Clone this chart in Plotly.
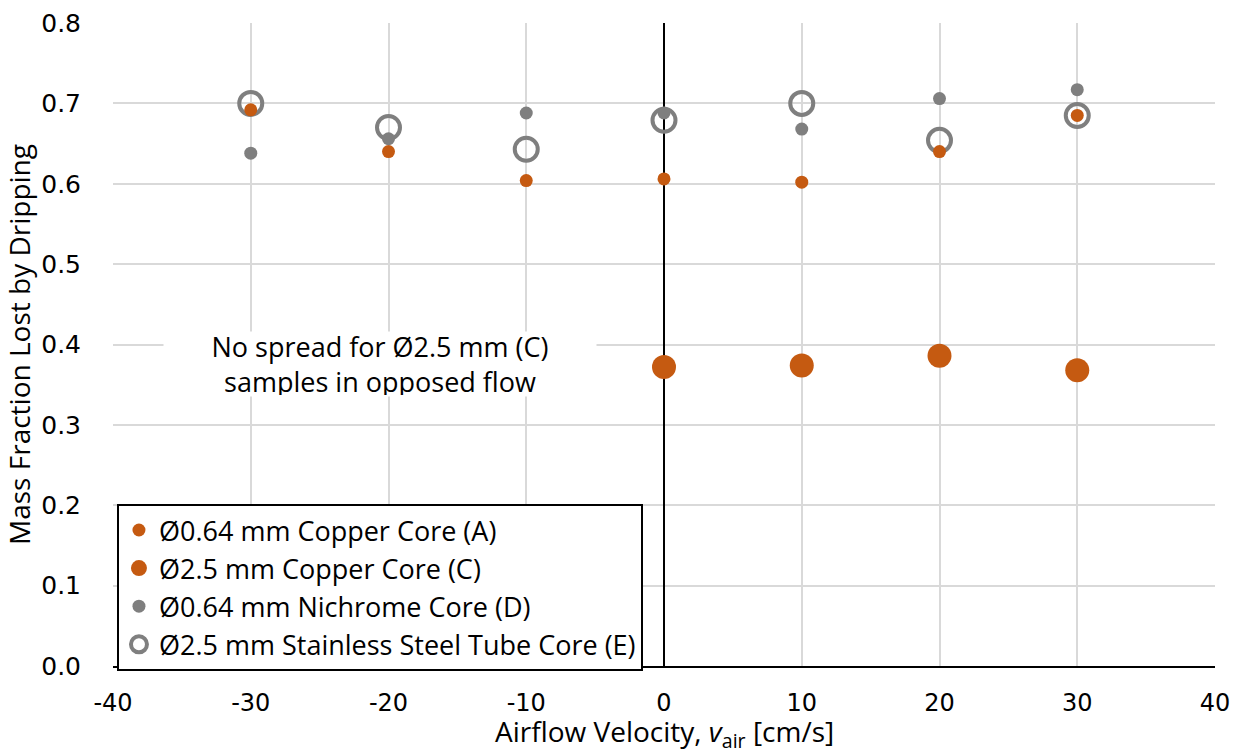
import plotly.graph_objects as go

velocity = [-30, -20, -10, 0, 10, 20, 30]
copper_064 = [0.692, 0.640, 0.604, 0.606, 0.602, 0.640, 0.685]
velocity_c = [0, 10, 20, 30]
copper_25 = [0.372, 0.374, 0.386, 0.368]
nichrome_064 = [0.638, 0.656, 0.688, 0.688, 0.668, 0.706, 0.717]
steel_tube_25 = [0.700, 0.670, 0.643, 0.679, 0.700, 0.654, 0.685]

x_ticks = [-40, -30, -20, -10, 0, 10, 20, 30, 40]
y_ticks = [0.0, 0.1, 0.2, 0.3, 0.4, 0.5, 0.6, 0.7, 0.8]

ORANGE = "#C55A11"
GRAY = "#7F7F7F"
FONT = "Open Sans"
TICKFONT = "DejaVu Sans"

fig = go.Figure()
fig.add_trace(go.Scatter(
    x=velocity, y=steel_tube_25, mode="markers", name="Ø2.5 mm Stainless Steel Tube Core (E)",
    marker=dict(size=23, color="rgba(0,0,0,0)", line=dict(color=GRAY, width=4)),
    legendrank=4, legendgroup="e"))
fig.add_trace(go.Scatter(
    x=velocity, y=copper_064, mode="markers", name="Ø0.64 mm Copper Core (A)",
    marker=dict(size=13, color=ORANGE), legendrank=1, legendgroup="a"))
fig.add_trace(go.Scatter(
    x=velocity_c, y=copper_25, mode="markers", name="Ø2.5 mm Copper Core (C)",
    marker=dict(size=24, color=ORANGE), legendrank=2, legendgroup="c"))
fig.add_trace(go.Scatter(
    x=velocity, y=nichrome_064, mode="markers", name="Ø0.64 mm Nichrome Core (D)",
    marker=dict(size=13, color=GRAY), legendrank=3, legendgroup="d"))

fig.add_annotation(
    x=-20.6, y=0.376, xref="x", yref="y",
    text="No spread for Ø2.5 mm (C)<br>samples in opposed flow",
    showarrow=False, bgcolor="white", width=430, height=62,
    font=dict(family=FONT, size=27, color="black"), align="center")

fig.add_annotation(
    x=0.5, y=-0.104, xref="paper", yref="paper", xanchor="center", yanchor="middle",
    text="Airflow Velocity, <i>v</i><sub>air</sub> [cm/s]", showarrow=False,
    font=dict(family=FONT, size=28, color="black"))

fig.update_layout(
    width=1239, height=752,
    margin=dict(l=113, r=24, t=23, b=86),
    paper_bgcolor="white", plot_bgcolor="white",
    font=dict(family=FONT, size=27, color="black"),
    legend=dict(x=0.0036, y=0.252, xanchor="left", yanchor="top",
                bordercolor="black", borderwidth=2, bgcolor="white",
                font=dict(family=FONT, size=27, color="black"),
                tracegroupgap=0, itemsizing="trace"),
    xaxis=dict(range=[-40, 40], tickvals=x_ticks, ticktext=[str(v) for v in x_ticks],
               showgrid=True, gridcolor="#D9D9D9", gridwidth=1.5,
               zeroline=True, zerolinecolor="black", zerolinewidth=1.5,
               showline=True, linecolor="black", linewidth=1.5,
               ticks="outside", ticklen=14, tickcolor="white", automargin=False,
               tickfont=dict(family=TICKFONT, size=24)),
    yaxis=dict(range=[0, 0.8], tickvals=y_ticks, ticktext=[f"{v:.1f}" for v in y_ticks],
               showgrid=True, gridcolor="#D9D9D9", gridwidth=1.5,
               zeroline=False, showline=False, automargin=False,
               ticks="outside", ticklen=26, tickcolor="white",
               tickfont=dict(family=TICKFONT, size=25),
               title=dict(text="Mass Fraction Lost by Dripping",
                          font=dict(family=FONT, size=28), standoff=4)),
)

fig.write_html("out.html")
